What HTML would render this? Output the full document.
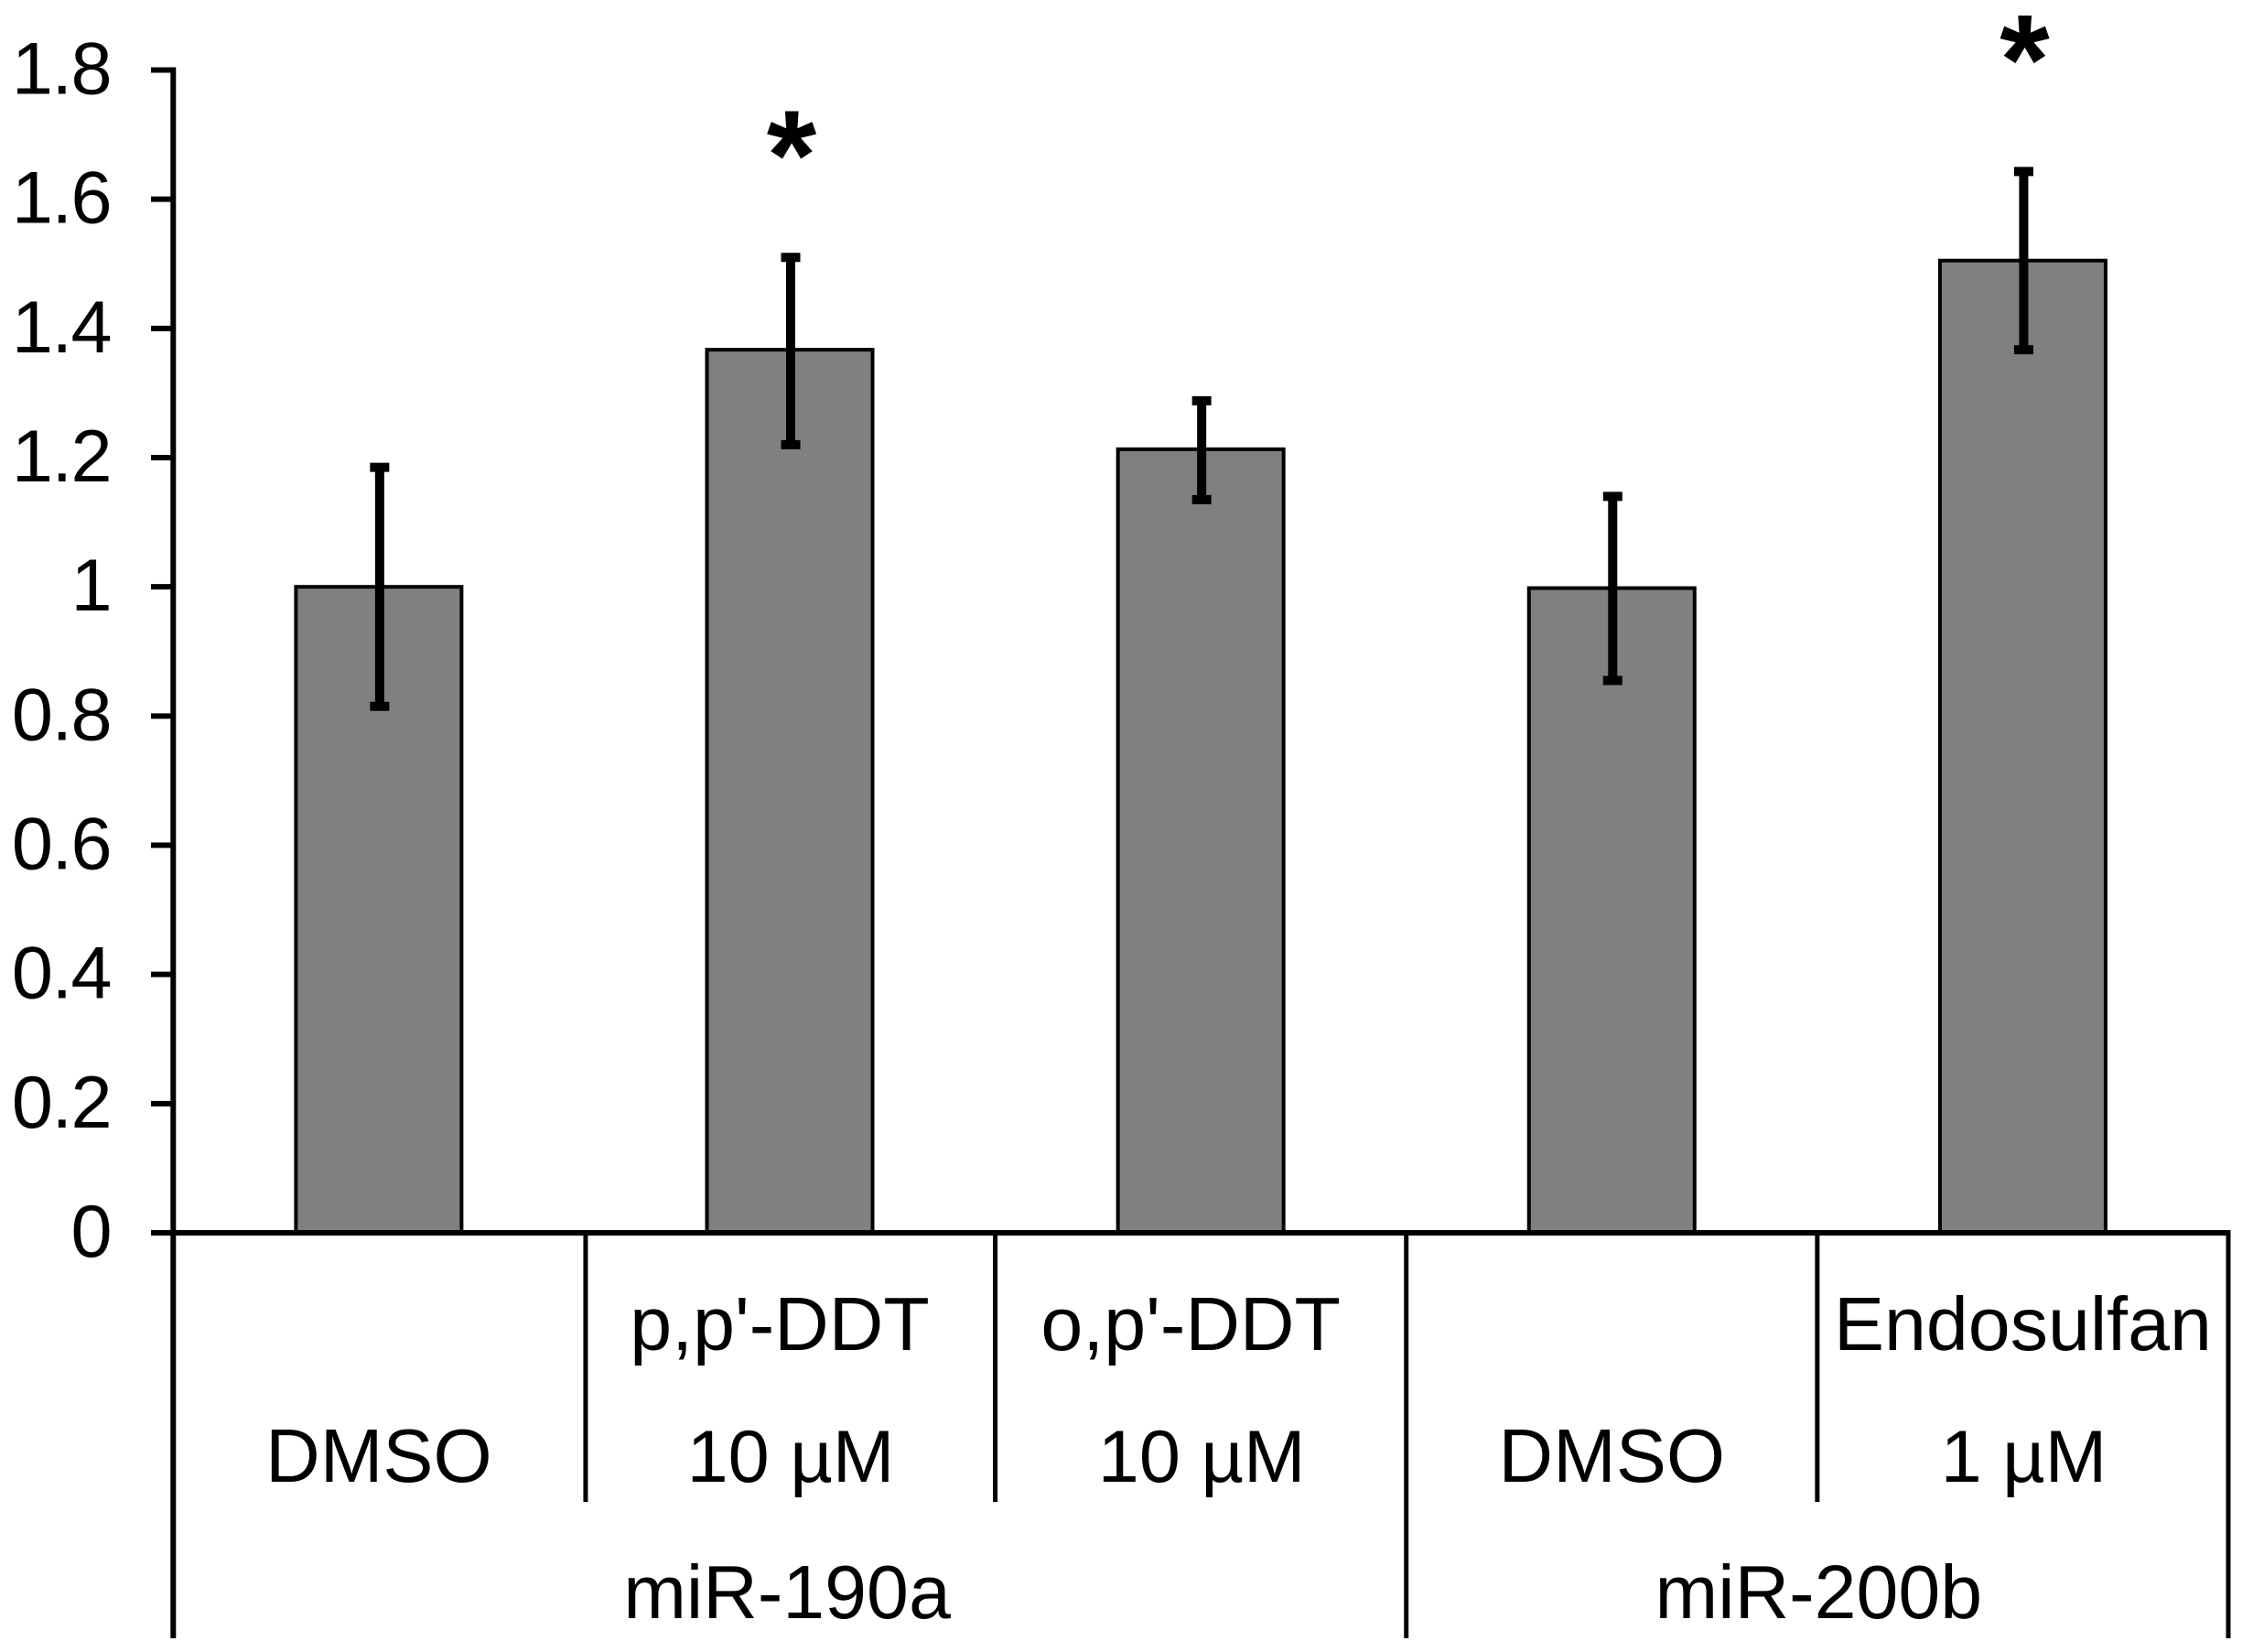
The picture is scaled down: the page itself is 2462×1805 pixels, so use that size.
<!DOCTYPE html>
<html lang="en">
<head>
<meta charset="utf-8">
<title>miR-190a and miR-200b expression bar chart</title>
<style>
html,body{margin:0;padding:0;background:#fff;}
svg{display:block;}
text{font-family:"Liberation Sans",Arial,sans-serif;fill:#000;}
</style>
</head>
<body>
<svg id="chart" xmlns="http://www.w3.org/2000/svg" width="2462" height="1805" viewBox="0 0 2462 1805"></svg>
<script>
const categories = ["DMSO", "p,p'-DDT", "o,p'-DDT", "DMSO", "Endosulfan"];
const doses = ["", "10 µM", "10 µM", "", "1 µM"];
const means = [1.0, 1.367, 1.213, 0.998, 1.505];
const errHigh = [1.185, 1.51, 1.288, 1.14, 1.643];
const errLow = [0.815, 1.22, 1.135, 0.855, 1.367];
const starLevels = [null, 1.699, null, null, 1.847];
const tickLabels = ["0", "0.2", "0.4", "0.6", "0.8", "1", "1.2", "1.4", "1.6", "1.8"];
const tickValues = [0, 0.2, 0.4, 0.6, 0.8, 1, 1.2, 1.4, 1.6, 1.8];
const groupNames = ["miR-190a", "miR-200b"];
const groupSpans = [[0, 3], [3, 5]];

const NS = "http://www.w3.org/2000/svg";
const svg = document.getElementById("chart");
const plotLeft = 189.3, plotRight = 2435, axisTop = 76.5, axisBottom = 1347;
const yMax = 1.8;
const slot = (plotRight - plotLeft) / categories.length;
const barWidth = 181;
const y = v => axisBottom - (v / yMax) * (axisBottom - axisTop);
const xEdge = i => plotLeft + i * slot;
const xCenter = i => xEdge(i) + slot / 2;

function line(x1, y1, x2, y2, w) {
  const el = document.createElementNS(NS, "line");
  el.setAttribute("x1", x1); el.setAttribute("y1", y1);
  el.setAttribute("x2", x2); el.setAttribute("y2", y2);
  el.setAttribute("stroke", "#000"); el.setAttribute("stroke-width", w);
  svg.appendChild(el);
  return el;
}
function label(str, x, yy, size, anchor) {
  const el = document.createElementNS(NS, "text");
  el.setAttribute("x", x); el.setAttribute("y", yy);
  el.setAttribute("font-size", size);
  el.setAttribute("text-anchor", anchor || "middle");
  el.textContent = str;
  svg.appendChild(el);
  return el;
}

// bars
means.forEach((m, i) => {
  const r = document.createElementNS(NS, "rect");
  r.setAttribute("x", xCenter(i) - barWidth / 2);
  r.setAttribute("y", y(m));
  r.setAttribute("width", barWidth);
  r.setAttribute("height", axisBottom - y(m));
  r.setAttribute("fill", "#808080");
  r.setAttribute("stroke", "#000");
  r.setAttribute("stroke-width", 4);
  
  
  svg.appendChild(r);
});

// error bars
means.forEach((m, i) => {
  const cx = xCenter(i) + 1;
  const stem = line(cx, y(errHigh[i]), cx, y(errLow[i]), 10);
  
  
  const capTop = line(cx - 10.5, y(errHigh[i]), cx + 10.5, y(errHigh[i]), 10);
  
  
  const capLow = line(cx - 10.5, y(errLow[i]), cx + 10.5, y(errLow[i]), 10);
  
  
});

// significance stars
starLevels.forEach((s, i) => {
  if (s === null) return;
  const st = label("*", xCenter(i) + 2, y(s) + 70, 140);
  st.setAttribute("font-weight", "bold");
  
  
});

// y axis
const yAxis = line(plotLeft, axisTop - 3, plotLeft, axisBottom, 6);


tickValues.forEach((v, i) => {
  const t = line(165, y(v), plotLeft, y(v), 6);
  
  
  const l = label(tickLabels[i], 121, y(v) + 26, 81, "end");
  l.setAttribute("letter-spacing", "-1.5");
  
  
});

// x axis
const xAxis = line(plotLeft - 3, axisBottom, plotRight + 2.5, axisBottom, 6);



// category dividers
for (let i = 0; i <= categories.length; i++) {
  const outer = i === 0 || i === categories.length || groupSpans.some(g => g[0] === i);
  const dx = xEdge(i) + (i === 1 ? 1.5 : 0);
  const d = line(dx, axisBottom, dx, outer ? 1790 : 1641, outer && i === 0 ? 6 : 5);
  
  
}

// category labels: name on the upper row when a dose exists, else on the lower row
categories.forEach((c, i) => {
  const hasDose = doses[i] !== "";
  const nudge = c.includes("DDT") ? -11 : 0;
  const n = label(c, xCenter(i) + nudge, hasDose ? 1475 : 1619, 82.5);
  
  
  if (hasDose) {
    const d = label(doses[i], xCenter(i) + 1, 1619, 81);
    
    
  }
});

// group labels
groupNames.forEach((g, i) => {
  const cx = (xEdge(groupSpans[i][0]) + xEdge(groupSpans[i][1])) / 2;
  const t = label(g, cx + (i === 0 ? -3 : 1.5), 1768, 82.5);
  
  
});
</script>
</body>
</html>
